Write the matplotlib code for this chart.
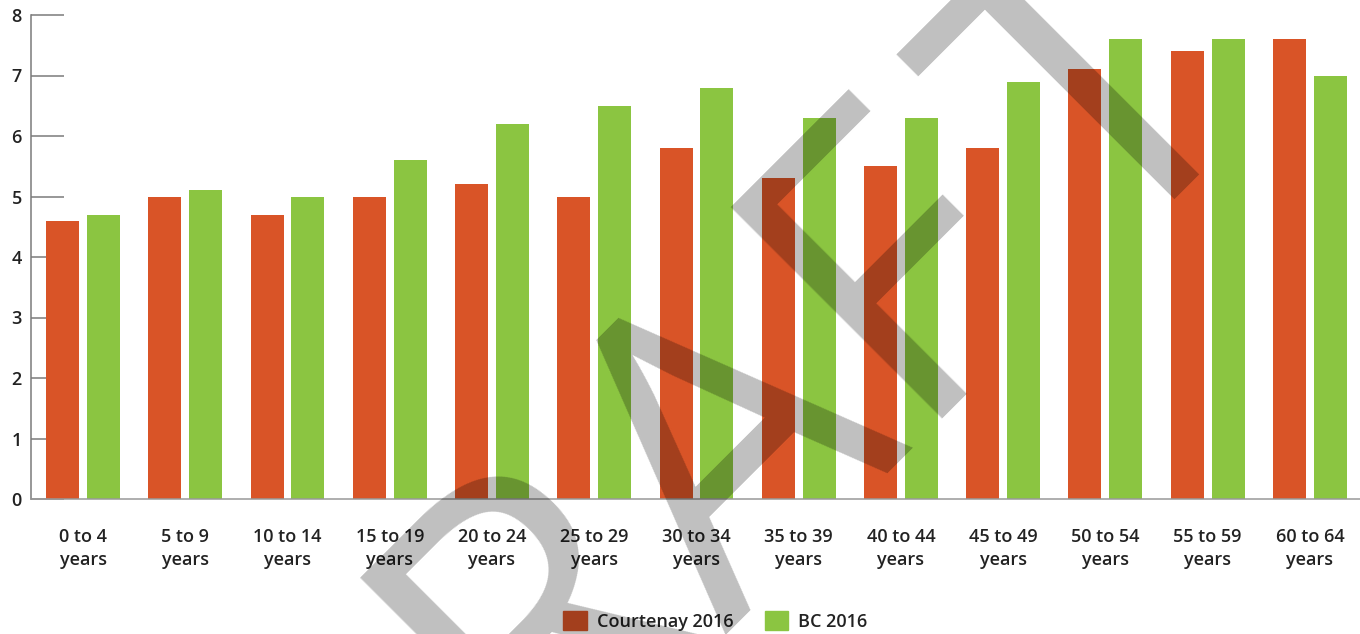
import numpy as np
import matplotlib.pyplot as plt
from matplotlib.patches import Patch

plt.rcParams['font.family'] = ['Open Sans', 'DejaVu Sans']

ages = ["0 to 4", "5 to 9", "10 to 14", "15 to 19", "20 to 24", "25 to 29",
        "30 to 34", "35 to 39", "40 to 44", "45 to 49", "50 to 54", "55 to 59",
        "60 to 64"]
courtenay = [4.6, 5.0, 4.7, 5.0, 5.2, 5.0, 5.8, 5.3, 5.5, 5.8, 7.1, 7.4, 7.6]
bc = [4.7, 5.1, 5.0, 5.6, 6.2, 6.5, 6.8, 6.3, 6.3, 6.9, 7.6, 7.6, 7.0]
labels = [a + "\nyears" for a in ages]

ORANGE = "#d95427"
GREEN = "#8bc541"
TXT = "#222222"
AX = "#7a7a7a"

fig = plt.figure(figsize=(13.6, 6.34), dpi=100)
ax = fig.add_axes([31 / 1360, 135 / 634, 1329 / 1360, 484 / 634])

x = np.arange(len(ages))
w = 0.323
ax.bar(x - 0.2, courtenay, w, color=ORANGE, zorder=2)
ax.bar(x + 0.2, bc, w, color=GREEN, zorder=2)

ax.set_xlim(-0.509, 12.49)
ax.set_ylim(0, 8)
ax.set_axisbelow(True)

for s in ["top", "right"]:
    ax.spines[s].set_visible(False)
ax.spines["left"].set_color(AX)
ax.spines["left"].set_linewidth(1.1)
ax.spines["bottom"].set_color("#999999")
ax.spines["bottom"].set_linewidth(1.1)
ax.spines["bottom"].set_zorder(3)

ax.set_yticks(range(0, 9))
ax.tick_params(axis="y", direction="in", length=24, width=1.1, color=AX,
               pad=6.5, labelsize=13, labelcolor=TXT)
ax.set_xticks(x)
ax.set_xticklabels(labels, linespacing=1.38)
ax.tick_params(axis="x", length=0, pad=21, labelsize=13, labelcolor=TXT)
for t in ax.get_xticklabels() + ax.get_yticklabels():
    t.set_fontweight("semibold")

handles = [Patch(color=ORANGE, label="Courtenay 2016"),
           Patch(color=GREEN, label="BC 2016")]
leg = fig.legend(handles=handles, loc="center", bbox_to_anchor=(0.526, 0.021),
                 ncol=2, frameon=False, handlelength=1.3, handleheight=1.3,
                 handletextpad=0.55, columnspacing=1.75,
                 prop={"size": 13, "weight": "semibold"})
for t in leg.get_texts():
    t.set_color(TXT)

# DRAFT watermark, the T sits a little further out than the font spacing
wm = dict(fontsize=302, color="black", alpha=0.25, rotation=45,
          rotation_mode="anchor", va="baseline", zorder=10)
fig.text(1055 / 1360, 1 - 265 / 634, "DRAF", ha="right", **wm)
fig.text(1104 / 1360, 1 - 266 / 634, "T", ha="left", **wm)

fig.savefig("out.png", dpi=100)
